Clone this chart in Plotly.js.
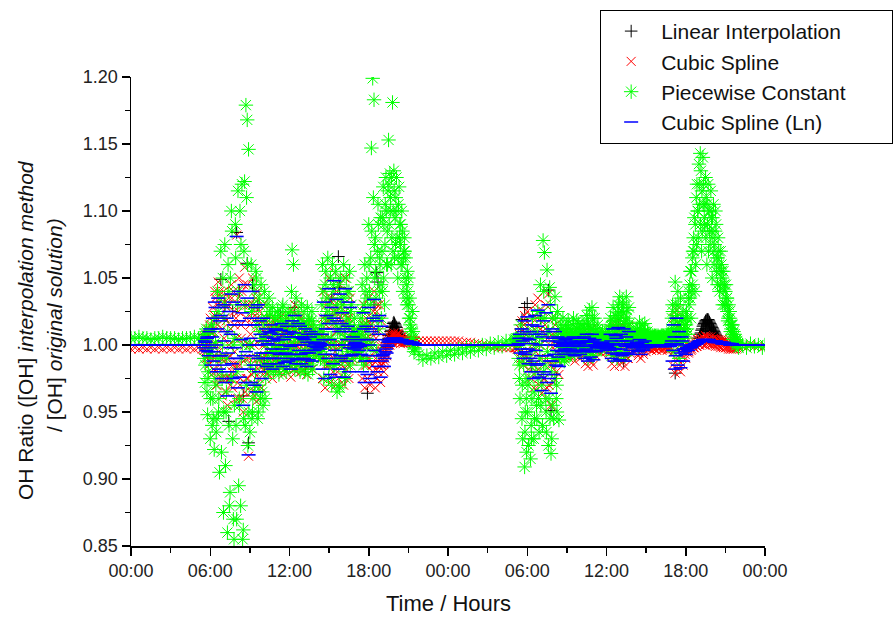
<!DOCTYPE html>
<html>
<head>
<meta charset="utf-8">
<script src="https://cdn.plot.ly/plotly-3.0.1.min.js"></script>
<style>html,body{margin:0;padding:0;background:#fff;}#chart{width:893px;height:618px;}</style>
</head>
<body>
<div id="chart"></div>
<script>
// ---------- time (hours) ----------
const hoursFlat1 = [0,0.3,0.6,0.9,1.2,1.5,1.8,2.1,2.4,2.7,3.0,3.3,3.6,3.9,4.2,4.5,4.8,5.1,5.4];
const hoursDay1 = [5.5,5.6,5.7,5.8,5.9,
6.0,6.1,6.2,6.3,6.4,6.5,6.6,6.7,6.8,6.9,
7.0,7.1,7.2,7.3,7.4,7.5,7.6,7.7,7.8,7.9,
8.0,8.1,8.2,8.3,8.4,8.5,8.6,8.7,8.8,8.9,
9.0,9.1,9.2,9.3,9.4,9.5,9.6,9.7,9.8,9.9,
10.0,10.1,10.2,10.3,10.4,10.5,10.6,10.7,10.8,10.9,
11.0,11.1,11.2,11.3,11.4,11.5,11.6,11.7,11.8,11.9,
12.0,12.1,12.2,12.3,12.4,12.5,12.6,12.7,12.8,12.9,
13.0,13.1,13.2,13.3,13.4,13.5,13.6,13.7,13.8,13.9,
14.0,14.1,14.2,14.3,14.4,14.5,14.6,14.7,14.8,14.9,
15.0,15.1,15.2,15.3,15.4,15.5,15.6,15.7,15.8,15.9,
16.0,16.1,16.2,16.3,16.4,16.5,16.6,16.7,16.8,16.9,
17.0,17.1,17.2,17.3,17.4,17.5,17.6,17.7,17.8,17.9,
18.0,18.1,18.2,18.3,18.4,18.5,18.6,18.7,18.8,18.9,
19.0,19.1,19.2,19.3,19.4,19.5,19.6,19.7,19.8,19.9,
20.0,20.1,20.2,20.3,20.4,20.5,20.6,20.7,20.8,20.9,
21.0,21.1,21.2,21.3,21.4,21.5];
const hoursDay1b = [5.55,5.65,5.75,5.85,5.95,
6.05,6.15,6.25,6.35,6.45,6.55,6.65,6.75,6.85,6.95,
7.05,7.15,7.25,7.35,7.45,7.55,7.65,7.75,7.85,7.95,
8.05,8.15,8.25,8.35,8.45,8.55,8.65,8.75,8.85,8.95,
9.05,9.15,9.25,9.35,9.45,9.55,9.65,9.75,9.85,9.95,
10.05,10.15,10.25,10.35,10.45,10.55,10.65,10.75,10.85,10.95,
11.05,11.15,11.25,11.35,11.45,11.55,11.65,11.75,11.85,11.95,
12.05,12.15,12.25,12.35,12.45,12.55,12.65,12.75,12.85,12.95,
13.05,13.15,13.25,13.35,13.45,13.55,13.65,13.75,13.85,13.95,
14.05,14.15,14.25,14.35,14.45,14.55,14.65,14.75,14.85,14.95,
15.05,15.15,15.25,15.35,15.45,15.55,15.65,15.75,15.85,15.95,
16.05,16.15,16.25,16.35,16.45,16.55,16.65,16.75,16.85,16.95,
17.05,17.15,17.25,17.35,17.45,17.55,17.65,17.75,17.85,17.95,
18.05,18.15,18.25,18.35,18.45,18.55,18.65,18.75,18.85,18.95,
19.05,19.15,19.25,19.35,19.45,19.55,19.65,19.75,19.85,19.95,
20.05,20.15,20.25,20.35,20.45,20.55,20.65,20.75,20.85,20.95,
21.05,21.15,21.25,21.35,21.45];
const hoursDay1c = [5.525,5.625,5.725,5.825,5.925,
6.025,6.125,6.225,6.325,6.425,6.525,6.625,6.725,6.825,6.925,
7.025,7.125,7.225,7.325,7.425,7.525,7.625,7.725,7.825,7.925,
8.025,8.125,8.225,8.325,8.425,8.525,8.625,8.725,8.825,8.925,
9.025,9.125,9.225,9.325,9.425,9.525,9.625,9.725,9.825,9.925,
10.025,10.125,10.225,10.325,10.425,10.525,10.625,10.725,10.825,10.925,
11.025,11.125,11.225,11.325,11.425,11.525,11.625,11.725,11.825,11.925,
12.025,12.125,12.225,12.325,12.425,12.525,12.625,12.725,12.825,12.925,
13.025,13.125,13.225,13.325,13.425,13.525,13.625,13.725,13.825,13.925,
14.025,14.125,14.225,14.325,14.425,14.525,14.625,14.725,14.825,14.925,
15.025,15.125,15.225,15.325,15.425,15.525,15.625,15.725,15.825,15.925,
16.025,16.125,16.225,16.325,16.425,16.525,16.625,16.725,16.825,16.925,
17.025,17.125,17.225,17.325,17.425,17.525,17.625,17.725,17.825,17.925,
18.025,18.125,18.225,18.325,18.425,18.525,18.625,18.725,18.825,18.925,
19.025,19.125,19.225,19.325,19.425,19.525,19.625,19.725,19.825,19.925,
20.025,20.125,20.225,20.325,20.425,20.525,20.625,20.725,20.825,20.925,
21.025,21.125,21.225,21.325,21.425];
const hoursFlat2 = [21.8,22.1,22.4,22.7,23.0,23.3,23.6,23.9,24.2,24.5,24.8,25.1,25.4,25.7,26.0,26.3,26.6,26.9,27.2,27.5,27.8,28.1,28.4,28.7,29.0];
const hoursDay2 = [29.1,29.2,29.3,29.4,29.5,29.6,29.7,29.8,29.9,30.0,
30.1,30.2,30.3,30.4,30.5,30.6,30.7,30.8,30.9,31.0,
31.1,31.2,31.3,31.4,31.5,31.6,31.7,31.8,31.9,32.0,
32.1,32.2,32.3,32.4,32.5,32.6,32.7,32.8,32.9,33.0,
33.1,33.2,33.3,33.4,33.5,33.6,33.7,33.8,33.9,34.0,
34.1,34.2,34.3,34.4,34.5,34.6,34.7,34.8,34.9,35.0,
35.1,35.2,35.3,35.4,35.5,35.6,35.7,35.8,35.9,36.0,
36.1,36.2,36.3,36.4,36.5,36.6,36.7,36.8,36.9,37.0,
37.1,37.2,37.3,37.4,37.5,37.6,37.7,37.8,37.9,38.0,
38.1,38.2,38.3,38.4,38.5,38.6,38.7,38.8,38.9,39.0,
39.1,39.2,39.3,39.4,39.5,39.6,39.7,39.8,39.9,40.0,
40.1,40.2,40.3,40.4,40.5,40.6,40.7,40.8,40.9,41.0,
41.1,41.2,41.3,41.4,41.5,41.6,41.7,41.8,41.9,42.0,
42.1,42.2,42.3,42.4,42.5,42.6,42.7,42.8,42.9,43.0,
43.1,43.2,43.3,43.4,43.5,43.6,43.7,43.8,43.9,44.0,
44.1,44.2,44.3,44.4,44.5,44.6,44.7,44.8,44.9,45.0,
45.1,45.2,45.3,45.4,45.5,45.6,45.7,45.8,45.9,46.0];
const hoursDay2b = [29.15,29.25,29.35,29.45,29.55,29.65,29.75,29.85,29.95,
30.05,30.15,30.25,30.35,30.45,30.55,30.65,30.75,30.85,30.95,
31.05,31.15,31.25,31.35,31.45,31.55,31.65,31.75,31.85,31.95,
32.05,32.15,32.25,32.35,32.45,32.55,32.65,32.75,32.85,32.95,
33.05,33.15,33.25,33.35,33.45,33.55,33.65,33.75,33.85,33.95,
34.05,34.15,34.25,34.35,34.45,34.55,34.65,34.75,34.85,34.95,
35.05,35.15,35.25,35.35,35.45,35.55,35.65,35.75,35.85,35.95,
36.05,36.15,36.25,36.35,36.45,36.55,36.65,36.75,36.85,36.95,
37.05,37.15,37.25,37.35,37.45,37.55,37.65,37.75,37.85,37.95,
38.05,38.15,38.25,38.35,38.45,38.55,38.65,38.75,38.85,38.95,
39.05,39.15,39.25,39.35,39.45,39.55,39.65,39.75,39.85,39.95,
40.05,40.15,40.25,40.35,40.45,40.55,40.65,40.75,40.85,40.95,
41.05,41.15,41.25,41.35,41.45,41.55,41.65,41.75,41.85,41.95,
42.05,42.15,42.25,42.35,42.45,42.55,42.65,42.75,42.85,42.95,
43.05,43.15,43.25,43.35,43.45,43.55,43.65,43.75,43.85,43.95,
44.05,44.15,44.25,44.35,44.45,44.55,44.65,44.75,44.85,44.95,
45.05,45.15,45.25,45.35,45.45,45.55,45.65,45.75,45.85,45.95];
const hoursDay2c = [29.125,29.225,29.325,29.425,29.525,29.625,29.725,29.825,29.925,
30.025,30.125,30.225,30.325,30.425,30.525,30.625,30.725,30.825,30.925,
31.025,31.125,31.225,31.325,31.425,31.525,31.625,31.725,31.825,31.925,
32.025,32.125,32.225,32.325,32.425,32.525,32.625,32.725,32.825,32.925,
33.025,33.125,33.225,33.325,33.425,33.525,33.625,33.725,33.825,33.925,
34.025,34.125,34.225,34.325,34.425,34.525,34.625,34.725,34.825,34.925,
35.025,35.125,35.225,35.325,35.425,35.525,35.625,35.725,35.825,35.925,
36.025,36.125,36.225,36.325,36.425,36.525,36.625,36.725,36.825,36.925,
37.025,37.125,37.225,37.325,37.425,37.525,37.625,37.725,37.825,37.925,
38.025,38.125,38.225,38.325,38.425,38.525,38.625,38.725,38.825,38.925,
39.025,39.125,39.225,39.325,39.425,39.525,39.625,39.725,39.825,39.925,
40.025,40.125,40.225,40.325,40.425,40.525,40.625,40.725,40.825,40.925,
41.025,41.125,41.225,41.325,41.425,41.525,41.625,41.725,41.825,41.925,
42.025,42.125,42.225,42.325,42.425,42.525,42.625,42.725,42.825,42.925,
43.025,43.125,43.225,43.325,43.425,43.525,43.625,43.725,43.825,43.925,
44.025,44.125,44.225,44.325,44.425,44.525,44.625,44.725,44.825,44.925,
45.025,45.125,45.225,45.325,45.425,45.525,45.625,45.725,45.825,45.925];
const hoursFlat3 = [46.3,46.6,46.9,47.2,47.5,47.8,48.0];

// ---------- Piecewise Constant (green) ----------
const greenFlat1 = [1.005,1.005,1.006,1.005,1.005,1.004,1.005,1.005,1.006,1.005,1.005,1.005,1.004,1.005,1.005,1.005,1.006,1.005,1.005];
const greenDay1 = [1.004,0.972,1.012,0.948,0.992,
0.930,1.015,0.960,0.922,1.002,0.945,1.025,0.905,1.070,0.975,
0.875,1.075,0.950,0.860,1.040,0.890,1.100,0.930,0.855,1.090,
0.870,1.115,0.960,0.880,1.120,0.862,1.122,1.179,1.168,1.146,
0.935,1.060,0.950,1.045,0.965,1.050,0.945,1.035,0.960,1.020,
0.955,1.040,0.975,1.030,0.980,1.022,0.985,1.028,0.980,1.012,
0.990,1.025,0.978,1.015,0.995,1.030,0.982,1.018,0.990,1.024,
0.985,1.025,1.071,1.060,0.982,1.035,0.990,1.020,0.980,1.030,
0.985,1.025,0.995,1.015,0.978,1.020,0.985,1.025,0.990,1.005,
0.998,1.008,0.992,1.010,0.995,1.060,0.975,1.045,0.990,1.065,
0.985,1.050,0.970,1.040,1.000,1.055,0.965,1.045,0.968,1.035,
0.990,1.060,0.980,1.050,0.995,1.040,0.985,1.030,0.990,1.020,
1.005,0.995,1.010,0.992,1.020,1.045,0.985,1.060,0.990,1.035,
1.090,1.000,1.147,1.199,1.183,1.080,0.995,1.105,1.040,1.095,
1.070,1.118,1.030,1.125,1.085,1.153,1.128,1.060,1.181,1.130,
1.095,1.125,1.050,1.118,1.075,1.100,1.040,1.080,1.065,1.030,
1.050,1.035,1.012,1.025,1.005,0.997];
const greenDay1b = [0.990,1.008,0.965,0.980,1.010,
0.995,0.940,1.010,0.975,0.935,1.040,0.960,0.990,0.920,1.050,
1.020,0.910,0.990,1.060,0.880,0.975,1.085,0.870,1.005,0.940,
1.030,0.895,1.100,0.990,0.855,1.070,0.940,1.110,0.925,1.000,
0.985,0.945,1.030,0.970,1.055,0.990,0.950,1.010,1.045,0.965,
1.005,0.960,1.020,0.990,1.035,0.985,1.005,0.995,1.020,0.982,
1.008,1.022,0.985,1.000,1.028,0.990,1.012,0.980,1.005,1.015,
1.000,1.040,0.990,1.015,1.005,0.985,1.025,1.008,0.995,1.015,
1.005,0.980,1.012,1.028,0.992,1.008,1.018,0.982,1.012,0.996,
1.002,0.996,1.006,0.990,1.030,1.010,0.988,1.055,1.025,0.975,
1.020,1.005,1.060,0.985,1.025,0.990,1.010,0.970,1.050,1.000,
1.030,1.010,0.975,1.040,1.015,1.055,1.000,0.995,1.010,1.005,
0.998,1.004,1.012,1.000,0.990,1.015,1.030,1.005,1.050,1.010,
1.040,1.065,1.020,1.110,1.050,1.035,1.070,1.012,1.060,1.020,
1.040,1.090,1.105,1.060,1.115,1.090,1.110,1.080,1.100,1.065,
1.110,1.080,1.105,1.090,1.060,1.085,1.070,1.050,1.045,1.040,
1.020,1.015,1.005,1.010,0.998];
const greenDay1c = [1.000,0.985,1.010,0.975,0.995,
0.960,1.000,0.945,1.020,0.970,0.990,0.950,1.035,0.980,1.000,
0.950,1.030,0.965,1.010,0.940,1.050,0.975,1.000,0.955,1.065,
0.980,1.040,0.955,1.075,1.000,0.945,1.030,0.970,1.060,0.950,
1.000,1.025,0.960,1.040,0.980,1.015,0.970,1.030,0.990,1.005,
0.985,1.015,1.000,0.990,1.010,1.025,0.995,1.012,1.000,1.020,
0.995,1.012,1.000,0.988,1.018,1.004,0.995,1.022,1.000,0.992,
1.010,0.995,1.020,1.000,1.012,0.992,1.005,1.018,0.990,1.005,
1.015,0.992,1.005,1.000,1.018,0.990,1.008,1.000,1.015,1.000,
1.004,1.000,1.003,0.998,1.015,1.040,1.000,1.020,1.035,1.005,
1.030,1.000,1.020,1.045,0.985,1.015,1.030,0.990,1.010,1.025,
1.000,1.035,1.005,1.020,0.990,1.015,1.025,1.000,1.008,1.012,
1.000,1.006,0.998,1.004,1.008,1.025,1.000,1.040,1.015,1.000,
1.060,1.030,1.085,1.000,1.075,1.055,1.020,1.090,1.065,1.045,
1.095,1.050,1.075,1.100,1.060,1.120,1.100,1.125,1.070,1.115,
1.075,1.100,1.065,1.080,1.090,1.060,1.065,1.070,1.035,1.055,
1.030,1.020,1.010,1.000,0.995];
const greenFlat2 = [0.993,0.989,0.992,0.990,0.994,0.991,0.995,0.992,0.996,0.993,0.997,0.994,0.998,0.995,0.999,0.996,1.000,0.997,1.001,0.998,1.002,0.999,1.003,1.001,1.004];
const greenDay2 = [1.004,1.003,1.005,0.985,1.015,0.945,1.005,0.909,0.975,1.010,
0.925,0.990,0.940,1.020,0.930,1.000,0.955,1.025,0.935,1.045,
0.970,1.078,1.069,0.960,1.056,0.925,1.043,0.919,1.020,0.945,
1.036,0.960,1.025,0.944,1.015,0.990,1.020,0.988,1.012,0.992,
1.018,0.994,1.012,0.996,1.020,0.993,1.010,0.997,1.016,0.995,
1.010,0.998,1.014,0.996,1.022,0.990,1.026,0.995,1.028,0.992,
1.020,0.996,1.012,0.998,1.008,0.997,1.010,1.000,1.008,0.998,
1.006,1.000,1.020,0.992,1.028,0.996,1.022,0.990,1.030,1.036,
0.995,1.032,1.024,0.992,1.036,1.000,1.028,1.004,1.008,1.002,
1.006,1.003,1.012,0.998,1.017,1.004,1.015,1.000,1.016,1.004,
1.010,1.002,1.006,1.003,1.007,1.004,1.006,1.003,1.007,1.004,
1.006,1.003,1.007,1.004,1.006,1.003,1.008,1.004,1.010,1.030,
0.995,1.047,1.010,1.040,0.990,1.035,1.005,1.025,1.008,1.020,
1.012,1.035,1.045,1.020,1.065,1.080,1.040,1.110,1.100,1.135,
1.143,1.070,1.140,1.095,1.125,1.060,1.120,1.085,1.115,1.050,
1.105,1.075,1.090,1.045,1.070,1.055,1.060,1.030,1.045,1.040,
1.035,1.018,1.025,1.010,1.015,1.004,1.008,1.000,1.003,0.998];
const greenDay2b = [1.005,1.004,0.990,0.960,1.000,0.930,0.990,0.950,0.920,
0.970,1.005,0.915,0.960,1.010,0.945,0.980,1.010,0.960,0.990,
1.020,0.940,1.040,0.985,0.935,1.010,0.960,1.030,0.930,0.990,
0.975,1.020,0.950,1.005,0.990,1.012,0.995,1.008,0.990,1.015,
1.002,1.012,0.993,1.006,1.015,0.998,1.008,1.018,1.000,1.010,
1.004,1.016,0.994,1.008,1.000,1.018,1.006,1.012,0.998,1.020,
1.006,1.010,1.002,1.015,1.004,1.006,0.999,1.004,1.002,1.006,
1.002,1.010,1.004,1.014,1.006,1.018,0.998,1.012,1.024,1.008,
1.020,1.006,1.030,1.012,1.018,1.026,1.010,1.016,1.004,1.006,
1.004,1.008,1.002,1.010,1.006,1.012,1.008,1.004,1.010,1.006,
1.004,1.007,1.005,1.008,1.004,1.006,1.005,1.007,1.004,1.006,
1.005,1.007,1.004,1.006,1.005,1.007,1.004,1.006,1.005,1.020,
1.015,1.005,1.030,1.022,1.012,1.008,1.018,1.002,1.012,1.015,
1.025,1.008,1.030,1.055,1.040,1.070,1.095,1.060,1.120,1.080,
1.105,1.130,1.085,1.120,1.105,1.110,1.090,1.100,1.075,1.095,
1.080,1.060,1.100,1.065,1.080,1.040,1.070,1.050,1.055,1.030,
1.045,1.025,1.030,1.020,1.012,1.015,1.006,1.004,1.002,1.000];
const greenDay2c = [1.004,1.005,1.000,0.975,1.005,0.970,0.985,0.935,0.960,
0.950,0.975,0.995,0.930,0.985,0.965,1.005,0.945,0.975,1.000,
0.955,1.005,0.980,1.020,0.950,0.995,1.010,0.945,0.980,0.955,
1.005,0.990,0.970,1.010,1.000,1.005,1.010,0.998,1.006,1.000,
1.008,1.000,1.010,1.002,1.006,1.010,1.000,1.006,1.012,1.004,
1.008,1.002,1.006,1.012,1.004,1.010,1.015,1.002,1.012,1.006,
1.012,1.004,1.008,1.002,1.006,1.004,1.008,1.002,1.005,1.003,
1.004,1.006,1.012,1.004,1.015,1.002,1.010,1.018,1.006,1.020,
1.012,1.025,1.004,1.016,1.008,1.020,1.014,1.006,1.008,1.004,
1.006,1.004,1.008,1.012,1.002,1.008,1.011,1.006,1.008,1.010,
1.006,1.004,1.007,1.005,1.006,1.004,1.007,1.005,1.006,1.004,
1.006,1.005,1.007,1.004,1.006,1.005,1.007,1.004,1.006,1.012,
1.025,1.012,1.020,1.005,1.030,1.015,1.002,1.020,1.005,1.010,
1.015,1.020,1.040,1.035,1.055,1.045,1.070,1.090,1.075,1.100,
1.120,1.090,1.115,1.105,1.090,1.080,1.105,1.070,1.100,1.085,
1.095,1.070,1.085,1.055,1.065,1.060,1.045,1.055,1.040,1.045,
1.030,1.035,1.020,1.025,1.015,1.008,1.010,1.002,1.004,1.001];
const greenFlat3 = [1.000,0.998,1.001,0.999,1.000,0.998,1.000];

// ---------- Cubic Spline (red) ----------
const redFlat1 = [0.997,0.998,0.997,0.998,0.997,0.998,0.997,0.998,0.997,0.998,0.997,0.998,0.997,0.998,0.997,0.998,0.997,0.998,0.997];
const redDay1 = [0.998,1.006,0.990,1.012,0.985,
1.020,0.978,1.028,0.990,1.035,0.970,1.047,0.985,1.030,0.962,
1.040,0.975,1.018,0.955,1.035,0.992,1.045,0.968,1.025,0.985,
1.082,0.960,1.050,0.975,1.040,0.950,1.058,0.990,1.045,0.917,
1.030,0.965,1.050,0.980,1.025,0.958,1.040,0.975,1.015,0.968,
1.030,0.985,1.020,0.978,1.015,0.985,1.020,0.975,1.010,0.990,
1.018,0.980,1.012,0.985,1.022,0.978,1.010,0.990,1.020,0.982,
1.015,0.976,1.025,0.985,1.030,0.980,1.012,0.992,1.020,0.980,
1.010,0.985,1.018,0.978,1.012,0.990,1.015,0.982,1.005,0.992,
1.002,0.996,1.004,0.994,1.000,0.975,1.040,0.968,1.030,0.985,
1.050,0.972,1.035,0.980,1.054,0.970,1.025,0.975,1.045,0.985,
1.030,0.970,1.050,0.982,1.020,0.975,1.035,0.988,1.010,0.995,
1.004,0.996,1.002,0.994,1.008,0.975,1.030,0.968,1.020,0.975,
1.035,0.970,1.015,0.985,1.040,0.968,1.025,0.980,1.030,0.972,
0.985,0.992,0.988,0.996,1.000,1.004,1.000,1.007,1.002,1.009,
1.004,1.008,1.002,1.007,1.001,1.006,1.001,1.005,1.002,1.004,
1.002,1.004,1.002,1.003,1.002,1.003];
const redDay1b = [1.002,0.995,1.008,0.992,1.015,
0.995,1.010,0.982,1.040,1.000,1.015,0.975,1.022,0.990,1.035,
1.005,0.965,1.028,0.990,0.975,1.012,0.980,1.040,0.995,1.020,
0.985,1.025,0.970,1.005,1.030,0.988,0.965,1.020,0.975,1.000,
1.008,1.020,0.990,0.962,1.035,1.002,0.985,1.025,0.990,1.005,
1.000,0.992,1.008,1.002,0.982,1.012,0.995,1.004,0.985,1.015,
1.000,1.005,0.990,1.015,0.995,1.008,0.982,1.000,1.010,0.990,
0.998,1.008,0.990,1.012,1.000,0.985,1.022,1.000,0.990,1.008,
1.000,1.005,0.992,1.003,0.985,1.008,0.995,1.010,0.998,1.002,
0.999,1.001,0.998,1.002,1.010,1.005,0.990,1.015,1.000,1.020,
1.005,0.990,1.015,1.025,0.995,1.040,1.000,1.012,0.990,1.020,
1.000,1.015,0.990,1.005,1.040,0.998,1.012,0.990,1.000,1.002,
1.000,0.999,1.001,0.998,0.990,1.000,1.015,0.985,1.005,0.990,
1.000,1.015,0.985,1.025,0.995,1.005,0.975,1.010,0.990,1.018,
0.990,0.980,0.994,0.992,0.998,1.002,1.005,1.003,1.008,1.006,
1.007,1.004,1.009,1.003,1.006,1.002,1.005,1.003,1.004,1.003,
1.003,1.002,1.003,1.002,1.003];
const redDay1c = [0.996,1.004,0.990,1.000,1.008,
1.010,0.990,1.000,1.022,0.980,1.030,0.995,1.040,0.975,1.012,
0.990,1.020,0.975,1.030,1.000,0.970,1.035,0.985,1.015,0.960,
1.005,1.035,0.985,1.015,0.960,1.045,1.000,0.975,1.030,0.990,
1.015,0.978,1.030,1.000,0.970,1.020,0.990,1.010,0.980,1.018,
0.990,1.010,0.980,1.005,0.995,1.015,0.990,0.985,1.012,0.998,
0.990,1.010,0.998,0.985,1.012,0.995,1.015,0.990,1.000,1.010,
0.990,1.015,1.000,0.982,1.010,1.000,0.990,1.015,1.002,0.990,
1.005,0.990,1.010,0.995,1.000,0.985,1.010,0.995,1.000,0.998,
1.000,0.998,1.001,0.999,0.990,1.020,1.005,0.985,1.035,1.000,
0.985,1.020,1.000,0.990,1.030,1.010,0.980,1.020,1.000,0.990,
1.015,0.990,1.025,1.000,0.985,1.020,1.000,0.995,1.005,0.998,
0.999,1.001,0.998,1.002,1.000,0.990,1.010,1.000,0.985,1.015,
0.990,1.005,1.020,0.980,1.010,0.990,1.030,0.985,1.000,0.985,
0.995,0.986,0.990,0.998,1.003,1.000,1.006,1.002,1.007,1.004,
1.006,1.002,1.008,1.003,1.005,1.004,1.003,1.004,1.003,1.002,
1.002,1.003,1.002,1.003,1.002];
const redFlat2 = [1.003,1.003,1.003,1.003,1.003,1.003,1.003,1.003,1.003,1.003,1.003,1.002,1.002,1.002,1.001,1.001,1.000,1.000,0.999,0.999,0.998,0.998,0.998,0.998,0.998];
const redDay2 = [0.998,0.998,0.997,1.008,0.990,1.018,0.985,1.022,0.992,1.025,
0.982,1.015,0.975,1.020,0.968,1.030,0.980,1.035,0.970,1.012,
0.964,1.025,0.975,1.030,0.968,1.038,0.985,0.955,1.020,0.972,
1.015,0.980,1.010,0.978,1.004,0.992,1.008,0.990,1.006,0.994,
1.008,0.990,1.005,0.992,1.010,0.988,1.004,0.994,1.008,0.990,
1.005,0.994,1.010,0.986,1.012,0.984,1.008,0.988,1.012,0.985,
1.006,0.992,1.004,0.996,1.002,0.994,1.004,0.996,1.002,0.995,
1.003,0.996,1.012,0.986,1.016,0.984,1.010,0.990,1.018,0.985,
1.012,0.988,1.016,0.984,1.010,0.990,1.014,0.994,1.000,0.996,
1.002,0.997,1.004,0.992,1.006,0.990,1.004,0.993,1.005,0.995,
1.000,0.997,1.000,0.996,1.000,0.997,1.001,0.996,1.000,0.997,
1.001,0.996,1.000,0.997,1.001,0.996,1.000,0.997,1.002,0.985,
1.020,0.979,1.026,0.982,1.015,0.980,1.010,0.985,0.995,0.990,
0.996,0.994,0.998,0.996,1.000,0.998,1.002,0.999,1.004,1.000,
1.005,1.001,1.006,1.002,1.007,1.002,1.006,1.001,1.006,1.001,
1.005,1.000,1.005,1.000,1.004,0.999,1.004,0.999,1.003,0.998,
1.003,0.998,1.002,0.997,1.002,0.997,1.001,0.997,1.000,0.998];
const redDay2b = [0.998,0.997,1.000,1.012,0.995,1.005,1.015,0.990,1.008,
0.995,1.005,0.988,1.000,0.985,1.012,0.995,1.020,0.982,1.000,
0.990,1.010,0.975,1.015,0.990,1.005,0.970,1.000,0.985,1.008,
0.990,1.000,0.995,0.988,1.006,0.998,1.000,1.002,0.996,1.000,
0.998,1.002,0.995,1.004,0.998,1.000,0.992,1.003,0.998,1.002,
0.998,1.003,0.992,1.000,0.996,1.005,0.995,1.003,0.993,1.004,
0.998,1.000,0.996,1.000,0.998,1.000,0.997,1.000,0.998,0.999,
0.998,1.000,0.994,1.004,0.992,1.000,0.996,1.008,0.990,1.002,
0.996,1.004,0.992,1.000,0.998,1.004,0.990,1.002,0.998,1.000,
0.998,1.000,0.996,1.002,0.994,0.998,1.000,0.995,1.001,0.998,
0.998,0.999,0.997,0.999,0.998,0.999,0.997,0.999,0.998,0.999,
0.998,0.999,0.997,0.999,0.998,0.999,0.997,0.999,0.998,1.005,
0.995,1.008,0.990,1.002,0.985,1.000,0.992,1.004,0.996,0.993,
0.995,0.997,0.995,0.999,0.997,1.001,0.998,1.003,0.999,1.004,
1.000,1.004,1.001,1.005,1.000,1.006,1.001,1.005,1.000,1.004,
1.000,1.004,0.999,1.004,0.999,1.003,0.998,1.003,0.998,1.002,
0.998,1.002,0.997,1.001,0.997,1.001,0.997,1.000,0.998,0.999];
const redFlat3 = [0.999,0.998,1.000,0.999,0.999,0.998,0.999];

// ---------- Cubic Spline (Ln) (blue) ----------
const blueFlat1 = [1.000,1.000,1.000,1.000,1.000,1.000,1.000,1.000,1.000,1.000,1.000,1.000,1.000,1.000,1.000,1.000,1.000,1.000,1.000];
const blueDay1 = [1.000,1.003,0.996,1.006,0.992,
1.012,0.985,1.020,0.995,1.028,0.980,1.035,0.992,1.022,0.975,
1.030,0.985,1.010,0.962,1.025,0.998,1.038,0.975,1.015,0.990,
1.081,0.968,1.040,0.982,1.030,0.955,1.045,0.995,1.035,0.918,
1.020,0.972,1.040,0.985,1.015,0.965,1.030,0.980,1.008,0.975,
1.020,0.990,1.012,0.984,1.010,0.990,1.015,0.982,1.005,0.994,
1.012,0.986,1.008,0.990,1.016,0.984,1.004,0.994,1.014,0.988,
1.010,0.982,1.018,0.990,1.022,0.986,1.006,0.996,1.014,0.986,
1.005,0.990,1.012,0.984,1.008,0.994,1.010,0.988,1.002,0.996,
1.001,0.998,1.002,0.997,1.000,0.982,1.032,0.975,1.022,0.990,
1.042,0.978,1.028,0.986,1.048,0.976,1.018,0.982,1.038,0.990,
1.024,0.976,1.042,0.988,1.014,0.980,1.028,0.992,1.006,0.997,
1.002,0.998,1.001,0.996,1.004,0.980,1.024,0.972,1.014,0.978,
1.028,0.975,1.010,0.988,1.034,0.972,1.018,0.984,1.022,0.976,
0.988,0.993,0.990,0.997,1.000,1.003,1.002,1.005,1.004,1.005,
1.004,1.005,1.003,1.004,1.003,1.004,1.002,1.003,1.002,1.003,
1.002,1.002,1.001,1.002,1.001,1.001];
const blueDay1b = [0.998,1.002,1.005,0.995,1.010,
0.998,1.006,0.988,1.032,1.000,1.012,0.982,1.018,0.992,1.028,
1.003,0.972,1.020,0.994,0.980,1.008,0.986,1.032,0.998,1.015,
0.990,1.018,0.976,1.004,1.024,0.992,0.972,1.015,0.982,1.000,
1.005,1.015,0.992,0.970,1.028,1.000,0.990,1.018,0.994,1.003,
1.000,0.994,1.006,1.001,0.986,1.009,0.997,1.003,0.990,1.011,
1.000,1.004,0.993,1.011,0.997,1.006,0.987,1.000,1.008,0.993,
0.999,1.006,0.993,1.009,1.000,0.989,1.016,1.000,0.993,1.006,
1.000,1.004,0.994,1.002,0.989,1.006,0.996,1.008,0.999,1.001,
0.999,1.001,0.999,1.001,1.008,1.004,0.993,1.012,1.000,1.016,
1.004,0.993,1.012,1.020,0.996,1.034,1.000,1.010,0.992,1.016,
1.000,1.012,0.992,1.004,1.032,0.998,1.010,0.993,1.000,1.001,
1.000,0.999,1.000,0.999,0.993,1.000,1.012,0.988,1.004,0.992,
1.000,1.012,0.988,1.020,0.996,1.004,0.980,1.008,0.992,1.014,
0.992,0.984,0.995,0.994,0.999,1.002,1.004,1.003,1.005,1.004,
1.005,1.004,1.004,1.003,1.004,1.003,1.003,1.002,1.003,1.002,
1.002,1.001,1.002,1.001,1.001];
const blueFlat2 = [1.000,1.000,1.000,1.000,1.000,1.000,1.000,1.000,1.000,1.000,1.000,1.000,1.000,1.000,1.000,1.000,1.000,1.000,1.000,1.000,1.000,1.000,1.000,1.000,1.000];
const blueDay2 = [1.000,1.000,1.000,1.005,0.994,1.012,0.990,1.018,0.995,1.021,
0.986,1.010,0.980,1.015,0.975,1.022,0.985,1.026,0.976,1.008,
0.966,1.018,0.980,1.024,0.972,1.030,0.988,0.964,1.012,0.978,
1.010,0.985,1.006,0.984,1.002,0.995,1.005,0.993,1.004,0.996,
1.005,0.993,1.003,0.995,1.006,0.992,1.002,0.996,1.005,0.993,
1.003,0.996,1.006,0.990,1.008,0.988,1.005,0.991,1.008,0.989,
1.004,0.995,1.002,0.998,1.001,0.996,1.002,0.998,1.001,0.997,
1.001,0.998,1.008,0.990,1.012,0.988,1.007,0.993,1.013,0.989,
1.008,0.992,1.012,0.988,1.006,0.994,1.010,0.996,1.000,0.998,
1.001,0.999,1.002,0.995,1.004,0.993,1.002,0.996,1.003,0.998,
1.000,0.999,1.000,0.999,1.000,0.999,1.000,0.999,1.000,0.999,
1.000,0.999,1.000,0.999,1.000,0.999,1.000,0.999,1.001,0.988,
1.015,0.982,1.020,0.985,1.010,0.983,1.006,0.988,0.997,0.993,
0.998,0.996,0.999,0.998,1.000,1.000,1.001,1.001,1.002,1.002,
1.003,1.003,1.004,1.003,1.004,1.003,1.004,1.003,1.003,1.003,
1.003,1.002,1.003,1.002,1.002,1.002,1.002,1.001,1.002,1.001,
1.001,1.001,1.001,1.000,1.001,1.000,1.000,1.000,1.000,1.000];
const blueDay2b = [1.000,1.000,1.001,1.008,0.997,1.003,1.010,0.993,1.005,
0.997,1.004,0.990,1.001,0.988,1.008,0.996,1.014,0.986,1.000,
0.992,1.006,0.978,1.010,0.992,1.003,0.975,1.000,0.988,1.005,
0.993,1.000,0.996,0.991,1.003,0.999,1.000,1.001,0.997,1.000,
0.999,1.001,0.997,1.002,0.999,1.000,0.995,1.002,0.999,1.001,
0.999,1.002,0.995,1.000,0.997,1.003,0.996,1.002,0.995,1.003,
0.999,1.000,0.998,1.000,0.999,1.000,0.998,1.000,0.999,1.000,
0.999,1.000,0.996,1.003,0.994,1.000,0.997,1.005,0.993,1.001,
0.997,1.003,0.994,1.000,0.999,1.003,0.993,1.001,0.999,1.000,
0.999,1.000,0.998,1.001,0.996,0.999,1.000,0.997,1.000,0.999,
1.000,0.999,1.000,0.999,1.000,0.999,1.000,0.999,1.000,0.999,
1.000,0.999,1.000,0.999,1.000,0.999,1.000,0.999,1.000,1.003,
0.996,1.006,0.992,1.001,0.988,1.000,0.994,1.003,0.997,0.995,
0.997,0.998,0.998,0.999,0.999,1.000,1.000,1.001,1.001,1.002,
1.003,1.003,1.003,1.004,1.003,1.004,1.003,1.004,1.003,1.003,
1.003,1.002,1.003,1.002,1.002,1.002,1.002,1.001,1.001,1.001,
1.001,1.001,1.001,1.000,1.000,1.000,1.000,1.000,1.000,1.000];
const blueFlat3 = [1.000,1.000,1.000,1.000,1.000,1.000,1.000];

// ---------- Linear Interpolation (black): the points that show ----------
const blackHours = [5.6,5.9,6.2,6.5,6.8,7.1,7.4,7.7,8.0,8.2,8.5,8.8,8.9,9.2,9.6,10.1,11.3,12.4,13.2,15.2,15.7,15.8,16.2,17.9,18.4,18.6,18.7,
19.3,19.4,19.5,19.6,19.7,19.8,19.9,20.0,20.1,20.2,20.3,20.4,20.5,20.6,
19.45,19.55,19.65,19.75,19.85,19.95,20.05,20.15,20.25,20.35,20.45,20.55,
19.8,19.9,20.0,20.1,
29.5,29.6,29.7,29.8,30.0,30.3,31.0,31.6,31.8,32.2,36.9,37.3,41.2,41.5,
42.8,42.9,43.0,43.1,43.2,43.3,43.4,43.5,43.6,43.7,43.8,43.9,44.0,44.1,44.2,44.3,44.4,44.5,
43.05,43.15,43.25,43.35,43.45,43.55,43.65,43.75,43.85,43.95,44.05,44.15,44.25,44.35,44.45,
43.5,43.6,43.7,43.8,43.9];
const blackValues = [1.008,0.990,1.012,1.020,1.049,1.030,0.943,1.025,1.084,1.040,0.962,1.061,0.927,1.045,1.030,0.985,1.022,1.028,0.982,1.035,1.066,1.043,0.975,0.964,1.030,1.054,1.047,
0.998,1.002,1.005,1.008,1.011,1.014,1.017,1.015,1.013,1.010,1.008,1.006,1.004,1.003,
1.004,1.007,1.010,1.013,1.016,1.016,1.014,1.011,1.009,1.007,1.005,1.004,
1.008,1.010,1.009,1.007,
1.012,1.019,1.008,1.028,1.031,0.985,1.020,1.041,0.951,0.975,1.015,0.988,0.979,1.012,
1.001,1.003,1.005,1.008,1.011,1.014,1.016,1.018,1.019,1.019,1.017,1.015,1.013,1.011,1.009,1.007,1.005,1.004,
1.006,1.009,1.012,1.015,1.017,1.018,1.019,1.018,1.016,1.014,1.012,1.010,1.008,1.006,1.005,
1.010,1.012,1.011,1.010,1.008];

// ---------- axes ----------
const xTickVals = [0,6,12,18,24,30,36,42,48];
const xTickText = ['00:00','06:00','12:00','18:00','00:00','06:00','12:00','18:00','00:00'];
const xMinorVals = [3,9,15,21,27,33,39,45];
const yTickVals = [0.85,0.90,0.95,1.00,1.05,1.10,1.15,1.20];
const yTickText = ['0.85','0.90','0.95','1.00','1.05','1.10','1.15','1.20'];
const yMinorVals = [0.875,0.925,0.975,1.025,1.075,1.125,1.175];

const greenX = [].concat(hoursFlat1, hoursDay1, hoursDay1b, hoursDay1c, hoursFlat2, hoursDay2, hoursDay2b, hoursDay2c, hoursFlat3);
const greenY = [].concat(greenFlat1, greenDay1, greenDay1b, greenDay1c, greenFlat2, greenDay2, greenDay2b, greenDay2c, greenFlat3);
const redX = [].concat(hoursFlat1, hoursDay1, hoursDay1b, hoursDay1c, hoursFlat2, hoursDay2, hoursDay2b, hoursFlat3);
const redY = [].concat(redFlat1, redDay1, redDay1b, redDay1c, redFlat2, redDay2, redDay2b, redFlat3);
const blueX = [].concat(hoursFlat1, hoursDay1, hoursDay1b, hoursFlat2, hoursDay2, hoursDay2b, hoursFlat3);
const blueY = [].concat(blueFlat1, blueDay1, blueDay1b, blueFlat2, blueDay2, blueDay2b, blueFlat3);

const FONT = 'Liberation Sans, Arial, Helvetica, sans-serif';
const PAD = '\u00a0\u00a0\u00a0\u00a0\u00a0\u00a0\u00a0';

function mk(name, x, y, symbol, color, size, lw) {
  return {
    type: 'scatter', mode: 'markers', name: name, x: x, y: y,
    marker: {symbol: symbol, size: size, color: color, line: {color: color, width: lw}},
    hoverinfo: 'skip'
  };
}

const traces = [
  mk('Linear Interpolation', blackHours, blackValues, 'cross-thin-open', '#000000', 9, 1),
  mk('Cubic Spline', redX, redY, 'x-thin-open', '#ff0000', 9, 1),
  mk('Piecewise Constant' + PAD, greenX, greenY, 'asterisk-open', '#00ff00', 12, 1),
  mk('Cubic Spline (Ln)', blueX, blueY, 'line-ew-open', '#0000ff', 10, 1.6)
];

const axisCommon = {
  showgrid: false, zeroline: false, showline: true, linecolor: '#000', linewidth: 1.5,
  ticks: 'outside', ticklen: 8, tickwidth: 1.5, tickcolor: '#000',
  tickfont: {family: FONT, size: 18, color: '#222'}, mirror: false
};

const layout = {
  width: 893, height: 618,
  margin: {l: 131, r: 128, t: 77, b: 72, pad: 0, autoexpand: false},
  paper_bgcolor: '#fff', plot_bgcolor: '#fff',
  showlegend: true,
  legend: {
    x: 0.74, y: 1.143, xanchor: 'left', yanchor: 'top',
    bordercolor: '#000', borderwidth: 1, bgcolor: '#fff',
    font: {family: FONT, size: 21, color: '#111'},
    itemwidth: 50, tracegroupgap: 0
  },
  xaxis: Object.assign({}, axisCommon, {
    range: [0, 48], tickmode: 'array', tickvals: xTickVals, ticktext: xTickText,
    minor: {tickmode: 'array', tickvals: xMinorVals, ticks: 'outside', ticklen: 5, tickwidth: 1.5, tickcolor: '#000', showgrid: false}
  }),
  yaxis: Object.assign({}, axisCommon, {
    range: [0.85, 1.20], tickmode: 'array', tickvals: yTickVals, ticktext: yTickText,
    minor: {tickmode: 'array', tickvals: yMinorVals, ticks: 'outside', ticklen: 5, tickwidth: 1.5, tickcolor: '#000', showgrid: false}
  }),
  annotations: [
    {text: 'OH Ratio ([OH] <i>interpolation method</i>', xref: 'paper', yref: 'paper',
     x: -0.1656, y: 0.4606, xanchor: 'center', yanchor: 'middle', textangle: -90, showarrow: false,
     font: {family: FONT, size: 21, color: '#111'}},
    {text: '/ [OH] <i>original solution)</i>', xref: 'paper', yref: 'paper',
     x: -0.1215, y: 0.4712, xanchor: 'center', yanchor: 'middle', textangle: -90, showarrow: false,
     font: {family: FONT, size: 21, color: '#111'}},
    {text: 'Time / Hours', xref: 'paper', yref: 'paper',
     x: 0.5, y: -0.122, xanchor: 'center', yanchor: 'middle', showarrow: false,
     font: {family: FONT, size: 22, color: '#111'}}
  ]
};

Plotly.newPlot('chart', traces, layout, {displayModeBar: false, staticPlot: true});
</script>
</body>
</html>
